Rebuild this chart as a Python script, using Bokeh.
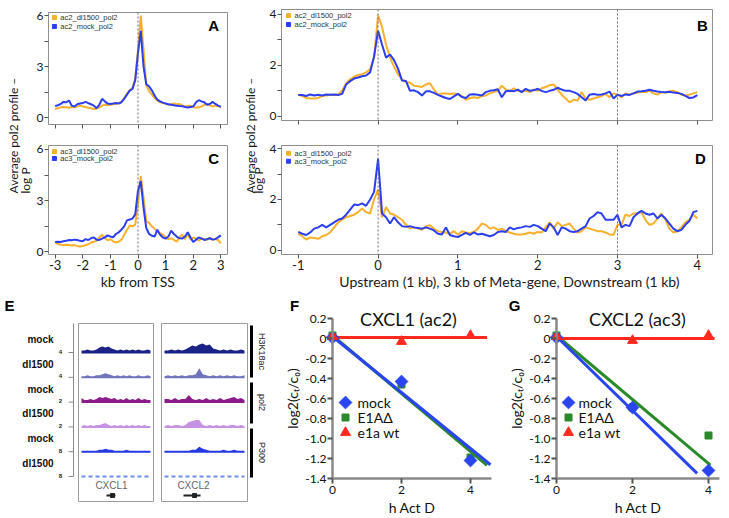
import math
from bokeh.plotting import figure
from bokeh.models import Range1d, FixedTicker, CustomJSTickFormatter, Span, LinearAxis
from bokeh.layouts import row, column
from bokeh.embed import file_html
from bokeh.resources import INLINE
from bokeh.core.properties import value

SANS = "Lato"
ARIAL = "Liberation Sans"
ORANGE = "#f7b12c"
BLUE = "#2b3ef2"

# ---------------- data: panels A-D (average pol2 profile, -log P) ----------------
tss_kb = [round(-3 + 0.1 * i, 1) for i in range(61)]
meta_kb = [round(-1 + 0.05 * i, 2) for i in range(101)]

A_dl1500 = [0.5, 0.55, 0.6, 0.62, 0.6, 0.58, 0.62, 0.6, 0.65, 0.7,
            0.65, 0.62, 0.58, 0.55, 0.5, 0.52, 0.6, 0.7, 0.75, 0.72,
            0.75, 0.78, 0.8, 0.85, 0.92, 1.15, 1.4, 1.6, 1.75, 2.3,
            4.0, 6.0, 4.0, 1.9, 1.55, 1.35, 1.15, 1.0, 0.9, 0.85,
            0.82, 0.75, 0.78, 0.82, 0.78, 0.8, 0.72, 0.65, 0.68, 0.7,
            0.62, 0.58, 0.6, 0.65, 0.75, 0.8, 0.72, 0.65, 0.7, 0.68,
            0.6]
A_mock = [0.67, 0.72, 0.8, 0.92, 0.9, 1.0, 0.7, 0.65, 0.78, 0.82,
          0.85, 0.92, 0.85, 0.78, 0.7, 0.55, 0.75, 1.1, 0.95, 0.82,
          0.8, 0.82, 0.85, 0.82, 0.9, 1.1, 1.35, 1.58, 1.68, 2.2,
          3.8, 5.1, 3.0, 1.95, 1.84, 1.6, 1.3, 1.05, 0.95, 0.88,
          0.82, 0.78, 0.75, 0.72, 0.7, 0.68, 0.67, 0.62, 0.59, 0.62,
          0.65, 0.9, 1.02, 0.95, 0.9, 0.75, 0.8, 0.92, 0.8, 0.7,
          0.63]
C_dl1500 = [0.55, 0.48, 0.42, 0.4, 0.42, 0.4, 0.38, 0.4, 0.35, 0.32,
            0.35, 0.4, 0.45, 0.55, 0.6, 0.65, 0.85, 1.0, 0.8, 0.68,
            0.75, 0.62, 0.55, 0.6, 0.72, 1.0, 1.3, 1.55, 1.5, 1.6,
            2.8, 4.45, 3.2, 1.8, 1.7, 1.5, 1.35, 1.2, 1.1, 1.0,
            0.85, 0.75, 0.8, 0.7, 0.6, 0.85, 1.0, 0.75, 1.05, 0.72,
            0.85, 0.78, 0.65, 0.8, 0.75, 0.7, 0.82, 0.72, 0.75, 0.7,
            0.5]
C_mock = [0.58, 0.6, 0.58, 0.62, 0.65, 0.7, 0.68, 0.72, 0.7, 0.65,
          0.62, 0.75, 0.7, 0.8, 0.85, 0.72, 0.7, 0.78, 0.85, 0.97,
          0.9, 0.85, 1.05, 1.15, 1.3, 1.5, 1.85, 1.9, 1.95, 2.2,
          3.6, 4.15, 2.6, 1.4, 1.05, 0.95, 0.9, 1.3, 1.0, 0.85,
          0.78, 0.9, 1.25, 1.05, 0.9, 0.8, 0.78, 0.9, 1.15, 0.85,
          0.58, 0.72, 0.85, 0.78, 0.7, 0.75, 0.8, 0.72, 0.75, 0.85,
          0.97]
B_dl1500 = [0.85, 0.80, 0.72, 0.70, 0.70, 0.72, 0.80, 0.82, 0.85, 0.84,
            0.86, 1.00, 1.30, 1.45, 1.55, 1.62, 1.65, 1.72, 1.85, 2.30,
            3.95, 3.50, 2.80, 2.30, 1.95, 1.65, 1.45, 1.35, 1.32, 1.20,
            1.18, 1.15, 1.25, 1.30, 1.05, 0.85, 0.90, 0.90, 0.88, 0.90,
            0.88, 0.80, 0.65, 0.72, 0.75, 0.72, 0.80, 0.82, 0.90, 0.95,
            1.00, 1.20, 1.05, 0.98, 1.10, 1.00, 0.98, 1.00, 0.95, 1.05,
            1.00, 1.10, 1.15, 1.22, 1.25, 1.05, 0.85, 0.70, 0.55, 0.65,
            0.62, 0.95, 0.70, 0.65, 0.70, 0.75, 0.80, 0.88, 0.75, 0.90,
            0.85, 0.75, 0.90, 0.85, 0.90, 0.92, 0.95, 0.95, 1.00, 0.90,
            0.85, 0.95, 0.92, 0.98, 1.00, 0.95, 0.85, 0.82, 0.85, 0.90,
            0.95]
B_mock = [0.84, 0.84, 0.80, 0.86, 0.82, 0.85, 0.82, 0.86, 0.85, 0.86,
          0.84, 0.88, 1.25, 1.38, 1.48, 1.52, 1.57, 1.60, 1.72, 2.35,
          3.35, 2.80, 2.30, 2.42, 2.20, 1.87, 1.40, 1.38, 1.00, 1.02,
          0.95, 0.82, 0.98, 0.98, 0.92, 0.84, 0.78, 0.72, 0.68, 0.78,
          0.88, 0.76, 0.72, 0.86, 0.87, 0.85, 0.82, 0.95, 1.00, 1.02,
          1.06, 0.75, 0.98, 1.00, 0.98, 1.05, 0.95, 1.08, 1.00, 1.02,
          1.08, 1.00, 0.95, 1.00, 1.04, 1.12, 1.05, 1.00, 1.00, 0.95,
          0.88, 0.75, 0.62, 0.85, 0.88, 0.85, 0.86, 0.90, 0.97, 0.70,
          0.85, 0.80, 0.86, 0.84, 0.90, 0.97, 0.98, 1.00, 1.04, 1.00,
          0.97, 0.95, 0.94, 0.96, 0.93, 0.92, 0.88, 0.80, 0.72, 0.74,
          0.83]
D_dl1500 = [0.65, 0.55, 0.42, 0.50, 0.48, 0.45, 0.55, 0.60, 0.70, 0.90,
            1.10, 1.20, 1.30, 1.35, 1.40, 1.50, 1.65, 1.50, 1.45, 2.00,
            2.40, 1.30, 1.70, 1.45, 1.40, 1.30, 1.20, 1.00, 0.85, 0.90,
            0.85, 0.80, 0.95, 0.98, 0.85, 0.75, 0.72, 0.70, 0.65, 0.75,
            0.62, 0.75, 0.70, 0.68, 0.72, 0.85, 1.05, 1.00, 0.85, 0.90,
            0.80, 0.85, 0.75, 0.70, 0.65, 0.62, 0.62, 0.65, 0.70, 0.65,
            0.72, 0.70, 0.90, 1.10, 0.85, 1.10, 0.95, 1.00, 1.05, 0.85,
            0.70, 0.75, 0.90, 0.85, 0.80, 0.75, 0.75, 0.70, 0.62, 0.60,
            1.00, 1.00, 1.40, 1.35, 1.45, 1.45, 1.50, 1.20, 1.00, 1.05,
            1.25, 1.45, 1.20, 0.85, 0.70, 0.75, 0.90, 1.10, 1.20, 1.40,
            1.25]
D_mock = [0.72, 0.65, 0.60, 0.70, 0.85, 0.90, 1.00, 0.90, 1.00, 1.10,
          1.20, 1.25, 1.40, 1.60, 1.80, 1.78, 1.85, 1.75, 2.00, 2.30,
          3.60, 1.45, 1.30, 1.05, 1.30, 1.10, 0.95, 0.92, 0.95, 0.90,
          0.88, 0.85, 0.90, 0.85, 0.78, 0.65, 0.62, 0.90, 0.60, 0.55,
          0.52, 0.60, 0.68, 0.60, 0.70, 0.62, 0.65, 0.60, 0.55, 0.60,
          0.72, 0.75, 0.72, 0.90, 0.82, 0.88, 0.90, 0.95, 0.92, 1.00,
          0.95, 0.85, 0.75, 1.05, 0.90, 0.60, 0.90, 0.85, 0.75, 0.72,
          0.75, 0.85, 0.95, 1.25, 1.35, 1.50, 1.45, 1.20, 1.20, 1.20,
          1.40, 0.90, 1.00, 0.95, 1.30, 1.45, 1.55, 1.45, 1.40, 1.45,
          1.25, 1.40, 1.25, 1.05, 0.85, 0.75, 0.80, 1.00, 1.15, 1.50,
          1.55]

# ---------------- data: panel E (browser tracks) ----------------
E_rows = ["mock", "dl1500", "mock", "dl1500", "mock", "dl1500"]
E_marks = ["H3K18ac", "pol2", "P300"]
E_genes = ["CXCL1", "CXCL2"]
E_scale = ["4", "4", "2", "2", "8", "8"]
E_colors = ["#1c2388", "#7074bd", "#8b1c8b", "#c592e4", "#2538e2", "#6f8cf4"]
E_sig_CXCL1 = [
    [1, 1, 2, 1, 1, 2, 4, 5, 4, 5, 3, 2, 1, 2, 1, 2, 1, 2, 1, 2, 1, 1, 2, 1],
    [0, 0, 1, 0, 0, 1, 1, 2, 3, 2, 1, 0, 1, 0, 1, 0, 1, 0, 0, 1, 0, 0, 1, 0],
    [3, 1, 1, 2, 1, 2, 4, 3, 4, 3, 2, 3, 1, 2, 1, 3, 1, 2, 1, 3, 1, 2, 1, 1],
    [0, 1, 0, 1, 0, 1, 1, 2, 3, 1, 0, 1, 0, 1, 0, 1, 0, 1, 0, 1, 0, 1, 0, 0],
    [0, 0, 0, 0, 0, 0, 1, 1, 2, 1, 1, 0, 0, 0, 0, 1, 0, 0, 0, 0, 0, 0, 0, 0],
    [0, 0, 0, 0, 0, 0, 0, 0, 0, 0, 0, 0, 0, 0, 0, 0, 0, 0, 0, 0, 0, 0, 0, 0],
]
E_sig_CXCL2 = [
    [1, 1, 2, 1, 2, 1, 2, 4, 6, 5, 7, 8, 6, 7, 3, 2, 1, 2, 1, 2, 1, 1, 2, 1],
    [0, 1, 0, 1, 0, 1, 0, 1, 1, 2, 8, 2, 1, 0, 1, 0, 1, 0, 1, 0, 1, 0, 0, 1],
    [2, 2, 1, 3, 1, 2, 2, 6, 2, 1, 2, 1, 3, 1, 2, 1, 3, 1, 2, 3, 4, 2, 3, 1],
    [0, 1, 0, 1, 1, 0, 1, 4, 5, 6, 6, 1, 0, 1, 0, 1, 0, 1, 0, 1, 1, 0, 1, 0],
    [0, 0, 0, 0, 0, 0, 0, 0, 1, 1, 4, 2, 1, 0, 0, 0, 0, 1, 0, 0, 1, 0, 0, 0],
    [0, 0, 0, 0, 0, 0, 0, 0, 0, 0, 0, 0, 0, 0, 0, 0, 0, 0, 0, 0, 0, 0, 0, 0],
]

# ---------------- data: panels F, G (mRNA decay) ----------------
hours = [0, 2, 4]
series_names = ["mock", "E1A\u0394", "e1a wt"]
F_mock = [0.01, -0.43, -1.22]
F_e1a_del = [0.03, -0.46, -1.19]
F_e1a_wt = [0.02, -0.03, 0.03]
F_fit_slope = [-0.28, -0.29, 0.0]
F_fit_icpt = [0.02, 0.03, 0.01]
F_fit_end = [4.58, 4.48, 4.48]
G_mock = [0.01, -0.69, -1.32]
G_e1a_del = [0.03, -0.69, -0.97]
G_e1a_wt = [0.02, -0.02, 0.03]
G_fit_slope = [-0.37, -0.32, 0.0]
G_fit_icpt = [0.02, 0.03, 0.0]
G_fit_end = [3.70, 4.05, 4.16]

SER_COLORS = ["#2a45f0", "#2a8a2a", "#ff2a1f"]


def to_data(frame, xr, yr, px, py):
    fx0, fy0, fx1, fy1 = frame
    x = xr[0] + (px - fx0) / (fx1 - fx0) * (xr[1] - xr[0])
    y = yr[1] - (py - fy0) / (fy1 - fy0) * (yr[1] - yr[0])
    return x, y


def base_fig(fig_box, frame_box, xr, yr, **kw):
    fx0, fy0, fx1, fy1 = fig_box
    gx0, gy0, gx1, gy1 = frame_box
    p = figure(width=fx1 - fx0, height=fy1 - fy0,
               x_range=Range1d(*xr), y_range=Range1d(*yr),
               min_border_left=gx0 - fx0, min_border_right=fx1 - gx1,
               min_border_top=gy0 - fy0, min_border_bottom=fy1 - gy1,
               toolbar_location=None, output_backend="svg", **kw)
    p.grid.visible = False
    p.background_fill_color = "white"
    p.border_fill_color = "white"
    return p


def profile_panel(xs, dl, mock, names, letter, fig_box, frame_box, xr, yr,
                  yticks, ystep, xticks, show_x, xlabel, vlines, leg_px, letter_px):
    p = base_fig(fig_box, frame_box, xr, yr)
    p.outline_line_color = "#8f8f8f"
    for ax in (p.xaxis[0], p.yaxis[0]):
        ax.axis_line_color = None
        ax.major_tick_line_color = "#555555"
        ax.major_tick_out = 4
        ax.major_tick_in = 0
        ax.minor_tick_line_color = None
        ax.major_label_standoff = 1
        ax.major_label_text_font = SANS
        ax.major_label_text_color = "#1a1a1a"
    p.yaxis.ticker = FixedTicker(ticks=yticks)
    p.yaxis.formatter = CustomJSTickFormatter(
        code="return (Math.abs(tick %% %d) < 1e-6) ? String(tick) : '';" % ystep)
    p.yaxis.major_label_text_font_size = "12px"
    p.xaxis.ticker = FixedTicker(ticks=xticks)
    if show_x:
        p.xaxis.formatter = CustomJSTickFormatter(code="return String(tick);")
        p.xaxis.major_label_text_font_size = "13px"
        p.xaxis.axis_label = xlabel
        p.xaxis.axis_label_text_font = SANS
        p.xaxis.axis_label_text_font_size = "14px"
        p.xaxis.axis_label_text_font_style = "normal"
        p.xaxis.axis_label_text_color = "#1a1a1a"
        p.xaxis.axis_label_standoff = 0
    else:
        p.xaxis.formatter = CustomJSTickFormatter(code="return '';")
        p.xaxis.major_label_text_font_size = "0px"
    for v in vlines:
        p.add_layout(Span(location=v, dimension="height", line_color="#6f6f6f",
                          line_dash="2 2", line_width=1))
    p.line(xs, dl, line_color=ORANGE, line_width=2)
    p.line(xs, mock, line_color=BLUE, line_width=2)
    # legend
    for i, (nm, col) in enumerate(zip(names, [ORANGE, BLUE])):
        mx, my = to_data(frame_box, xr, yr, leg_px[0], leg_px[1] + i * leg_px[2])
        tx, _ = to_data(frame_box, xr, yr, leg_px[0] + 6, 0)
        p.scatter([mx], [my], marker="square", size=4, color=col)
        p.text([tx], [my], text=[nm], text_font=value(ARIAL), text_font_size="7.5px",
               text_baseline="middle", text_color="#333333")
    lx, ly = to_data(frame_box, xr, yr, letter_px[0], letter_px[1])
    p.text([lx], [ly], text=[letter], text_font=value(ARIAL), text_font_size="15px",
           text_font_style="bold", text_align="center", text_baseline="middle",
           text_color="black")
    return p


def ylabel_spacer(width, height, x1, x2, ybottom):
    s = figure(width=width, height=height, x_range=Range1d(0, width),
               y_range=Range1d(height, 0), x_axis_type=None, y_axis_type=None,
               min_border=0, toolbar_location=None, output_backend="svg")
    s.grid.visible = False
    s.outline_line_color = None
    s.text([x1, x2], [ybottom, ybottom], text=["Average pol2 profile \u2013", "log P"],
           angle=math.pi / 2, text_align="left", text_baseline="middle",
           text_font=value(SANS), text_font_size="12px", text_color="#1a1a1a")
    return s


# ---------------- top row (page coordinates, origin at top-left) ----------------
S1 = ylabel_spacer(33, 292, 13, 25, 193)
A = profile_panel(tss_kb, A_dl1500, A_mock, ["ac2_dl1500_pol2", "ac2_mock_pol2"], "A",
                  (33, 0, 240, 132), (46, 12, 227, 124), (-3.24, 3.24), (-0.41, 6.18),
                  [0, 1.5, 3, 4.5, 6], 3, [-3, -2, -1, 0, 1, 2, 3], False, "", [0],
                  (52, 17, 9), (213, 25))
C = profile_panel(tss_kb, C_dl1500, C_mock, ["ac3_dl1500_pol2", "ac3_mock_pol2"], "C",
                  (33, 132, 240, 292), (46, 145, 227, 254), (-3.24, 3.24), (-0.15, 6.23),
                  [0, 1.5, 3, 4.5, 6], 3, [-3, -2, -1, 0, 1, 2, 3], True, "kb from TSS", [0],
                  (52, 151, 7), (213, 158))
S2 = ylabel_spacer(26, 292, 10, 18, 193)
B = profile_panel(meta_kb, B_dl1500, B_mock, ["ac2_dl1500_pol2", "ac2_mock_pol2"], "B",
                  (266, 0, 729, 132), (280, 9, 712, 120), (-1.21, 4.19), (-0.16, 4.18),
                  [0, 1, 2, 3, 4], 2, [-1, 0, 1, 2, 3, 4], False, "", [0, 3],
                  (287, 15, 9), (702, 25))
D = profile_panel(meta_kb, D_dl1500, D_mock, ["ac3_dl1500_pol2", "ac3_mock_pol2"], "D",
                  (266, 132, 729, 292), (280, 145, 712, 256), (-1.21, 4.19), (-0.17, 4.13),
                  [0, 1, 2, 3, 4], 2, [-1, 0, 1, 2, 3, 4], True,
                  "\u00a0" * 7 + "Upstream (1 kb), 3 kb of Meta-gene, Downstream (1 kb)", [0, 3],
                  (287, 153, 8), (700, 158))

# ---------------- panel E ----------------
E = figure(width=282, height=226, x_range=Range1d(0, 282), y_range=Range1d(518, 292),
           x_axis_type=None, y_axis_type=None, min_border=0,
           toolbar_location=None, output_backend="svg")
E.grid.visible = False
E.outline_line_color = None
boxes = [(78, 153), (161, 247)]
E.quad(left=[b[0] for b in boxes], right=[b[1] for b in boxes], top=[323, 323],
       bottom=[501, 501], fill_color=None, line_color="#9c9c9c", line_width=1)
baselines = [352 + 24.8 * i for i in range(6)]
for gi, sigs in enumerate([E_sig_CXCL1, E_sig_CXCL2]):
    x0, x1 = boxes[gi][0] + 3, boxes[gi][1] - 3
    for ti, sig in enumerate(sigs):
        n = len(sig)
        xs = [x0 + (x1 - x0) * k / (n - 1) for k in range(n)]
        b = baselines[ti]
        if ti == 5:
            E.line([x0, x1], [b, b], line_color=E_colors[ti], line_width=2, line_dash="4 3")
        else:
            E.varea(x=xs, y1=[b + 1] * n, y2=[b - 1 - h for h in sig], fill_color=E_colors[ti])
# bracket axis
E.segment(x0=[73], y0=[323], x1=[73], y1=[baselines[-1]], line_color="#8a8a8a", line_width=1)
E.segment(x0=[68] * 6, y0=baselines, x1=[73] * 6, y1=baselines, line_color="#8a8a8a", line_width=1)
E.text([60] * 6, [b - 1 for b in baselines], text=E_scale, text_font=value(ARIAL),
       text_font_size="6px", text_font_style="bold", text_align="center",
       text_baseline="middle", text_color="#222222")
E.text([53] * 6, [b - 13 for b in baselines], text=E_rows, text_font=value(ARIAL),
       text_font_size="10px", text_font_style="bold", text_align="right",
       text_baseline="middle", text_color="#111111")
E.segment(x0=[251] * 3, y0=[325, 382, 428], x1=[251] * 3, y1=[377, 423, 477],
          line_color="black", line_width=3)
E.text([261] * 3, [351, 402, 452], text=E_marks, angle=-math.pi / 2, text_font=value(ARIAL),
       text_font_size="9px", text_align="center", text_baseline="middle", text_color="#222222")
E.text([111, 193], [485, 485], text=E_genes, text_font=value(ARIAL), text_font_size="10px",
       text_align="center", text_baseline="middle", text_color="#666666")
E.segment(x0=[106, 183], y0=[495, 495], x1=[115, 200], y1=[495, 495], line_color="#222222",
          line_width=2)
E.scatter([112, 194], [495, 495], marker="square", size=4, color="#222222")
E.text([9], [305], text=["E"], text_font=value(ARIAL), text_font_size="15px",
       text_font_style="bold", text_align="center", text_baseline="middle", text_color="black")


# ---------------- panels F, G ----------------
def decay_panel(title, letter, fig_box, x0_px, xscale, series, slopes, icpts, ends, xbound,
                leg_px, title_px, letter_px):
    fx0, fy0, fx1, fy1 = fig_box
    xr = ((fx0 - x0_px) / xscale, (fx1 - x0_px) / xscale)
    yr = (-(fy1 - 338) / 100.0, (338 - fy0) / 100.0)
    p = figure(width=fx1 - fx0, height=fy1 - fy0, x_range=Range1d(*xr), y_range=Range1d(*yr),
               x_axis_type=None, y_axis_type=None, min_border=0,
               toolbar_location=None, output_backend="svg")
    p.grid.visible = False
    p.outline_line_color = None
    yax = LinearAxis(fixed_location=0, bounds=(-1.4, 0.2),
                     ticker=FixedTicker(ticks=[0.2, 0, -0.2, -0.4, -0.6, -0.8, -1.0, -1.2, -1.4]),
                     formatter=CustomJSTickFormatter(code="return tick == 0 ? '0' : tick.toFixed(1);"),
                     axis_label="log2(c\u209c/c\u2080)")
    xax = LinearAxis(fixed_location=-1.4, bounds=(0, xbound), ticker=FixedTicker(ticks=[0, 2, 4]),
                     formatter=CustomJSTickFormatter(code="return String(tick);"),
                     axis_label="h Act D")
    for ax in (yax, xax):
        ax.axis_line_color = "#8a8a8a"
        ax.axis_line_width = 2.5
        ax.major_tick_line_color = "#555555"
        ax.major_tick_line_width = 2
        ax.major_tick_out = 5
        ax.major_tick_in = 0
        ax.minor_tick_line_color = None
        ax.major_label_text_font = SANS
        ax.major_label_text_font_size = "12px"
        ax.major_label_text_color = "#111111"
        ax.major_label_standoff = 2
        ax.axis_label_text_font = SANS
        ax.axis_label_text_font_size = "14px"
        ax.axis_label_text_font_style = "normal"
        ax.axis_label_text_color = "#111111"
        ax.axis_label_standoff = 2
    yax.axis_label_standoff = 1
    yax.major_label_standoff = 1
    p.add_layout(yax, "left")
    p.add_layout(xax, "below")
    order = [1, 0, 2]
    for i in order:
        p.line([0, ends[i]], [icpts[i], icpts[i] + slopes[i] * ends[i]],
               line_color=SER_COLORS[i], line_width=3)
    markers = [("square", 9, math.pi / 4), ("square", 7, 0), ("triangle", 10, 0)]
    for i in order:
        mk, sz, ang = markers[i]
        p.scatter(hours, series[i], marker=mk, size=sz, angle=ang, color=SER_COLORS[i])
    # legend
    for i in range(3):
        mk, sz, ang = markers[i]
        mx = (leg_px[0] - x0_px) / xscale
        tx = (leg_px[1] - x0_px) / xscale
        my = (338 - (leg_px[2] + 15 * i)) / 100.0
        p.scatter([mx], [my], marker=mk, size=sz, angle=ang, color=SER_COLORS[i])
        p.text([tx], [my], text=[series_names[i]], text_font=value(SANS), text_font_size="14px",
               text_baseline="middle", text_color="#111111")
    p.text([(title_px[0] - x0_px) / xscale], [(338 - title_px[1]) / 100.0], text=[title],
           text_font=value(SANS), text_font_size="18px", text_align="center",
           text_baseline="middle", text_color="#111111")
    p.text([(letter_px[0] - x0_px) / xscale], [(338 - letter_px[1]) / 100.0], text=[letter],
           text_font=value(ARIAL), text_font_size="15px", text_font_style="bold",
           text_align="center", text_baseline="middle", text_color="black")
    return p


F = decay_panel("CXCL1 (ac2)", "F", (282, 292, 505, 518), 332, 34.5,
                [F_mock, F_e1a_del, F_e1a_wt], F_fit_slope, F_fit_icpt, F_fit_end, 4.6,
                (345, 357, 402), (408, 318), (294, 305))
G = decay_panel("CXCL2 (ac3)", "G", (505, 292, 729, 518), 556, 38.0,
                [G_mock, G_e1a_del, G_e1a_wt], G_fit_slope, G_fit_icpt, G_fit_end, 4.3,
                (568, 578, 402), (637, 318), (514, 305))

top = row(S1, column(A, C), S2, column(B, D))
bottom = row(E, F, G)
layout = column(top, bottom)

open("out.html", "w").write(file_html(layout, INLINE, title="pol2 profiles"))
